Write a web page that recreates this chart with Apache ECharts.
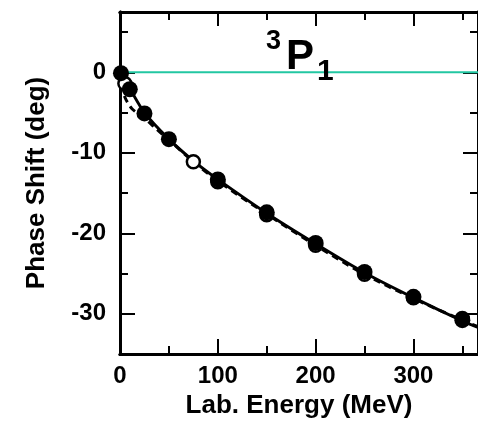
<!DOCTYPE html>
<html>
<head>
<meta charset="utf-8">
<script src="https://cdn.jsdelivr.net/npm/echarts@6/dist/echarts.min.js"></script>
<style>
  html, body { margin: 0; padding: 0; background: #fff; }
  #chart-container { width: 478px; height: 427px; }
</style>
</head>
<body>
<div id="chart-container"></div>
<script>
var myChart = echarts.init(document.getElementById('chart-container'));

// --- data ---
const xMax = 366;
const yMin = -35;
const yMax = 7.5;

// filled circles (energy MeV, phase shift deg)
const filledEnergy = [1, 10, 25, 50, 100, 150, 200, 250, 300, 350];
const filledShift  = [-0.1, -2.1, -5.1, -8.3, -13.3, -17.4, -21.2, -24.8, -27.9, -30.8];

// open circles
const openEnergy = [5, 75, 100, 150, 200, 250, 300, 350];
const openShift  = [-1.4, -11.1, -13.6, -17.7, -21.5, -25.1, -28.0, -30.6];

// solid curve
const solidEnergy = [0, 1, 5, 10, 25, 50, 75, 100, 150, 200, 250, 300, 350, 366];
const solidShift  = [0, -0.2, -0.9, -2.0, -5.0, -8.3, -11.0, -13.3, -17.5, -21.3, -24.9, -28.0, -30.9, -31.7];

// dashed curve
const dashedEnergy = [0, 2, 5, 8, 12, 17, 25, 35, 50, 75, 100, 150, 200, 250, 300, 350, 366];
const dashedShift  = [0, -2.0, -3.1, -3.8, -4.5, -5.0, -5.7, -6.8, -8.4, -11.1, -13.5, -17.6, -21.5, -25.1, -28.1, -30.8, -31.6];

// ticks
const xMajorTicks = [0, 100, 200, 300];
const xMinorTicks = [50, 150, 250, 350];
const yMajorTicks = [-30, -20, -10, 0];
const yMinorTicks = [-25, -15, -5, 5];

const zip = (xs, ys) => xs.map((x, i) => [x, ys[i]]);

const FONT = '"Liberation Sans", Arial, sans-serif';
const axisLine = { show: true, onZero: false, lineStyle: { color: '#000', width: 3 } };

function xAxisDef(pos, ticks, len, withLabels) {
    return {
        type: 'value', position: pos, min: 0, max: xMax,
        axisLine: axisLine,
        splitLine: { show: false },
        axisTick: { show: true, inside: true, length: len, customValues: ticks, lineStyle: { color: '#000', width: 2 } },
        axisLabel: withLabels ? {
            show: true, customValues: xMajorTicks, margin: 10,
            color: '#000', fontFamily: FONT, fontWeight: 'bold', fontSize: 24
        } : { show: false }
    };
}

function yAxisDef(pos, ticks, len, withLabels) {
    return {
        type: 'value', position: pos, min: yMin, max: yMax,
        axisLine: axisLine,
        splitLine: { show: false },
        axisTick: { show: true, inside: true, length: len, customValues: ticks, lineStyle: { color: '#000', width: 2 } },
        axisLabel: withLabels ? {
            show: true, customValues: yMajorTicks, margin: 14,
            color: '#000', fontFamily: FONT, fontWeight: 'bold', fontSize: 24
        } : { show: false }
    };
}

const xBottom = xAxisDef('bottom', xMajorTicks, 15, true);
xBottom.name = 'Lab. Energy (MeV)';
xBottom.nameLocation = 'middle';
xBottom.nameGap = 38;
xBottom.nameTextStyle = { color: '#000', fontFamily: FONT, fontWeight: 'bold', fontSize: 26 };

const yLeft = yAxisDef('left', yMajorTicks, 15, true);
yLeft.name = 'Phase Shift (deg)';
yLeft.nameLocation = 'middle';
yLeft.nameGap = 70;
yLeft.nameTextStyle = { color: '#000', fontFamily: FONT, fontWeight: 'bold', fontSize: 26 };

const option = {
    animation: false,
    grid: { left: 120, top: 12, right: -8, bottom: 73 },
    xAxis: [
        xBottom,
        xAxisDef('bottom', xMinorTicks, 8, false),
        xAxisDef('top', xMajorTicks, 14, false),
        xAxisDef('top', xMinorTicks, 8, false)
    ],
    yAxis: [
        yLeft,
        yAxisDef('left', yMinorTicks, 8, false),
        yAxisDef('right', yMajorTicks, 15, false),
        yAxisDef('right', yMinorTicks, 8, false)
    ],
    graphic: [
        { type: 'text', left: 266, top: 28, z: 10, style: { text: '3', fill: '#000', font: 'bold 27px ' + FONT } },
        { type: 'text', left: 286, top: 36, z: 10, style: { text: 'P', fill: '#000', font: 'bold 42px ' + FONT } },
        { type: 'text', left: 317, top: 57, z: 10, style: { text: '1', fill: '#000', font: 'bold 30px ' + FONT } }
    ],
    series: [
        {
            type: 'line', name: 'zero', data: [[0, 0], [xMax, 0]],
            showSymbol: false, silent: true, z: 1,
            lineStyle: { color: '#22c7a2', width: 2 }
        },
        {
            type: 'line', name: 'dashed', data: zip(dashedEnergy, dashedShift),
            showSymbol: false, smooth: 0.3, silent: true, z: 2,
            lineStyle: { color: '#000', width: 3, type: [7, 5] }
        },
        {
            type: 'line', name: 'solid', data: zip(solidEnergy, solidShift),
            showSymbol: false, smooth: 0.3, silent: true, z: 2,
            lineStyle: { color: '#000', width: 3 }
        },
        {
            type: 'scatter', name: 'open', data: zip(openEnergy, openShift),
            symbol: 'circle', symbolSize: 13, z: 3,
            itemStyle: { color: '#fff', borderColor: '#000', borderWidth: 2.5, opacity: 1 }
        },
        {
            type: 'scatter', name: 'filled', data: zip(filledEnergy, filledShift),
            symbol: 'circle', symbolSize: 16, z: 4,
            itemStyle: { color: '#000', opacity: 1 }
        }
    ]
};

myChart.setOption(option);

window.addEventListener('resize', function() {
    myChart.resize();
});
</script>
</body>
</html>
